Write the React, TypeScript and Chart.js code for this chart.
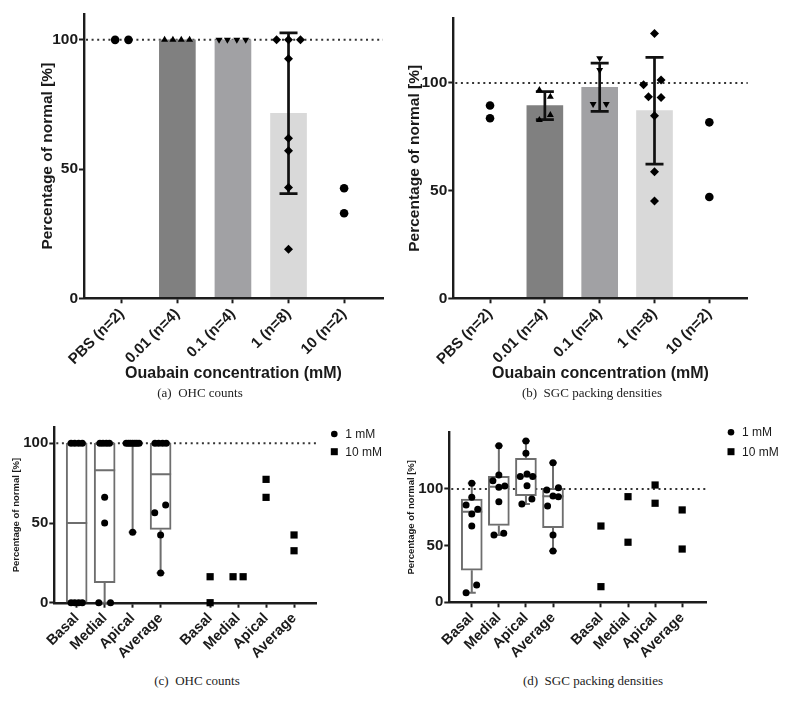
import React, { useEffect, useRef } from 'react';
import { Chart, registerables } from 'chart.js';

Chart.register(...registerables);

const SANS = '"Liberation Sans", Arial, Helvetica, sans-serif';
const SERIF = '"Liberation Serif", "Times New Roman", serif';
const AX = '#1c1c1c';
const TXT = '#1a1a1a';
const BOXC = '#6e6e6e';

// ===================== (a) & (b) : ouabain concentration groups =====================
const concLabels = ['PBS (n=2)', '0.01 (n=4)', '0.1 (n=4)', '1 (n=8)', '10 (n=2)'];
const concPositions = [0, 1, 2, 3, 4];
const yTicksAB = [0, 50, 100];

// (a) OHC counts — bar = mean, error bar = SD
const ohcBarMean = [null, 100, 100, 71.6, null];
const ohcBarSD = [null, 0, 0, 31.1, null];
const ohcPBS = [100, 100];
const ohc0_01 = [100, 100, 100, 100];
const ohc0_1 = [100, 100, 100, 100];
const ohc1 = [100, 100, 100, 92.7, 61.9, 57.1, 42.9, 19];
const ohc10 = [42.6, 32.9];
// horizontal spread of the dots (in category units)
const ohcPBSJit = [-0.12, 0.12];
const ohc0_01Jit = [-0.23, -0.08, 0.07, 0.22];
const ohc0_1Jit = [-0.25, -0.1, 0.07, 0.23];
const ohc1Jit = [-0.215, 0, 0.215, 0, 0, 0, 0, 0];
const ohc10Jit = [0, 0];

// (b) SGC packing densities
const sgcBarMean = [null, 89.5, 98, 87.1, null];
const sgcBarSD = [null, 6.5, 11.2, 24.8, null];
const sgcPBS = [89.5, 83.6];
const sgc0_01 = [96.7, 93.6, 85.1, 82.8];
const sgc0_1 = [111.5, 106, 90.2, 90.2];
const sgc1 = [123, 101.4, 99.1, 93.6, 93.2, 84.7, 58.8, 45.2];
const sgc10 = [81.7, 47];
const sgcPBSJit = [0, 0];
const sgc0_01Jit = [-0.1, 0.1, 0.1, -0.1];
const sgc0_1Jit = [0, 0, -0.12, 0.12];
const sgc1Jit = [0, 0.12, -0.2, -0.11, 0.12, 0, 0, 0];
const sgc10Jit = [0, 0];

const barColors = [null, '#808080', '#a1a1a4', '#d9d9d9', null];

// ===================== (c) & (d) : cochlear regions =====================
const regionLabels = ['Basal', 'Medial', 'Apical', 'Average', 'Basal', 'Medial', 'Apical', 'Average'];
const regionPositions = [0, 1, 2, 3, 4.77, 5.77, 6.77, 7.77];
const yTicksCD = [0, 50, 100];

// (c) OHC counts, 1 mM (box plots) and 10 mM
const ohcBasal1mM = [100, 100, 100, 100, 0, 0, 0, 0];
const ohcMedial1mM = [100, 100, 100, 100, 66.1, 50, 0, 0];
const ohcApical1mM = [100, 100, 100, 100, 100, 100, 100, 44.2];
const ohcAverage1mM = [100, 100, 100, 100, 61.3, 56.5, 42.5, 18.6];
const ohcBasal1mMJit = [-0.2, -0.07, 0.07, 0.2, -0.2, -0.07, 0.07, 0.2];
const ohcMedial1mMJit = [-0.17, -0.06, 0.06, 0.17, 0, 0, -0.21, 0.21];
const ohcApical1mMJit = [-0.23, -0.15, -0.08, 0, 0.08, 0.15, 0.23, 0];
const ohcAverage1mMJit = [-0.2, -0.07, 0.07, 0.2, 0.18, -0.21, 0, 0];
const ohcBasal10mM = [16.3, 0];
const ohcMedial10mM = [16.3, 16.3];
const ohcApical10mM = [77.4, 66.1];
const ohcAverage10mM = [42.5, 32.6];
const ohcBasal10mMJit = [0, 0];
const ohcMedial10mMJit = [-0.18, 0.18];
const ohcApical10mMJit = [0, 0];
const ohcAverage10mMJit = [0, 0];

// (d) SGC packing densities, 1 mM (box plots) and 10 mM
const sgcBasal1mM = [105, 92.7, 85.9, 82, 77.9, 67.3, 15.3, 8.5];
const sgcMedial1mM = [138.2, 112.4, 107.3, 102.6, 101.5, 88.8, 60.9, 59.4];
const sgcApical1mM = [142.4, 131.5, 113.2, 110.9, 110.9, 102.9, 91.2, 86.8];
const sgcAverage1mM = [123.2, 101.1, 99.1, 93.8, 93.2, 85, 59.4, 45.3];
const sgcBasal1mMJit = [0, 0, -0.21, 0.22, 0, 0, 0.18, -0.21];
const sgcMedial1mMJit = [0, 0, -0.22, 0.22, 0, 0, 0.18, -0.18];
const sgcApical1mMJit = [0, 0, 0.04, -0.21, 0.25, 0.04, 0.22, -0.15];
const sgcAverage1mMJit = [0, 0.2, -0.23, 0, 0.2, -0.2, 0, 0];
const sgcBasal10mM = [67.3, 13.8];
const sgcMedial10mM = [93.2, 53];
const sgcApical10mM = [103.5, 87.4];
const sgcAverage10mM = [81.5, 47];
const zeroJit2 = [0, 0];

// ===================== helpers =====================
function pts(pos: number, values: number[], jitter: number[]) {
  return values.map((v, i) => ({ x: pos + (jitter[i] || 0), y: v }));
}

function quantile(values: number[], p: number) {
  const s = [...values].sort((a, b) => a - b);
  const n = s.length;
  const pos = (n + 1) * p;
  const lo = Math.floor(pos);
  if (lo < 1) return s[0];
  if (lo >= n) return s[n - 1];
  return s[lo - 1] + (pos - lo) * (s[lo] - s[lo - 1]);
}

// ===================== plugins =====================
const refLinePlugin = {
  id: 'refLine',
  beforeDatasetsDraw(chart: any, _a: any, opts: any) {
    if (!opts || opts.value == null) return;
    const { ctx, chartArea, scales } = chart;
    const y = scales.y.getPixelForValue(opts.value);
    ctx.save();
    ctx.strokeStyle = '#333';
    ctx.lineWidth = 2;
    ctx.setLineDash([2, 3.6]);
    ctx.beginPath();
    ctx.moveTo(chartArea.left + 2, y);
    ctx.lineTo(chartArea.right, y);
    ctx.stroke();
    ctx.restore();
  },
};

const errorBarPlugin = {
  id: 'errorBars',
  afterDatasetDraw(chart: any, args: any) {
    const ds = chart.data.datasets[args.index];
    if (!ds.errorBars) return;
    const { ctx } = chart;
    const y = chart.scales.y;
    const cap = 18;
    ctx.save();
    ctx.strokeStyle = '#111';
    ctx.lineWidth = 2.7;
    args.meta.data.forEach((el: any, i: number) => {
      const e = ds.errorBars[i];
      if (!e) return;
      const m = ds.data[i].y;
      const pTop = y.getPixelForValue(m + e);
      const pBot = y.getPixelForValue(m - e);
      ctx.beginPath();
      ctx.moveTo(el.x, pTop);
      ctx.lineTo(el.x, pBot);
      ctx.moveTo(el.x - cap / 2, pTop);
      ctx.lineTo(el.x + cap / 2, pTop);
      ctx.moveTo(el.x - cap / 2, pBot);
      ctx.lineTo(el.x + cap / 2, pBot);
      ctx.stroke();
    });
    ctx.restore();
  },
};

const boxWhiskerPlugin = {
  id: 'boxWhiskers',
  afterDatasetDraw(chart: any, args: any) {
    const ds = chart.data.datasets[args.index];
    if (!ds.boxStats) return;
    const { ctx } = chart;
    const y = chart.scales.y;
    const cap = 8;
    ctx.save();
    ctx.strokeStyle = ds.borderColor;
    ctx.lineWidth = ds.borderWidth;
    args.meta.data.forEach((el: any, i: number) => {
      const s = ds.boxStats[i];
      const half = el.width / 2;
      const q1 = ds.data[i].y[0];
      const q3 = ds.data[i].y[1];
      ctx.beginPath();
      const pm = y.getPixelForValue(s.median);
      ctx.moveTo(el.x - half, pm);
      ctx.lineTo(el.x + half, pm);
      if (s.min < q1) {
        const a = y.getPixelForValue(q1), b = y.getPixelForValue(s.min);
        ctx.moveTo(el.x, a);
        ctx.lineTo(el.x, b);
        ctx.moveTo(el.x - cap / 2, b);
        ctx.lineTo(el.x + cap / 2, b);
      }
      if (s.max > q3) {
        const a = y.getPixelForValue(q3), b = y.getPixelForValue(s.max);
        ctx.moveTo(el.x, a);
        ctx.lineTo(el.x, b);
        ctx.moveTo(el.x - cap / 2, b);
        ctx.lineTo(el.x + cap / 2, b);
      }
      ctx.stroke();
    });
    ctx.restore();
  },
};

const sideLegendPlugin = {
  id: 'sideLegend',
  afterDraw(chart: any, _a: any, opts: any) {
    if (!opts || !opts.show) return;
    const { ctx, chartArea } = chart;
    ctx.save();
    ctx.font = `${opts.fontSize}px ${SANS}`;
    ctx.textBaseline = 'middle';
    ctx.textAlign = 'left';
    let row = 0;
    chart.data.datasets.forEach((ds: any) => {
      if (!ds.inLegend) return;
      const cx = chartArea.right + opts.dx;
      const cy = chartArea.top + opts.dy + row * opts.rowGap;
      ctx.fillStyle = '#000';
      if (ds.pointStyle === 'rect') {
        ctx.fillRect(cx - 3.5, cy - 3.5, 7, 7);
      } else {
        ctx.beginPath();
        ctx.arc(cx, cy, 3.3, 0, Math.PI * 2);
        ctx.fill();
      }
      ctx.fillStyle = TXT;
      ctx.fillText(ds.label, cx + opts.textGap, cy + 0.5);
      row++;
    });
    ctx.restore();
  },
};

// ===================== axis builders =====================
function xAxis(o: any) {
  return {
    type: 'linear',
    min: o.min,
    max: o.max,
    offset: false,
    afterBuildTicks: (ax: any) => {
      ax.ticks = o.positions.map((v: number) => ({ value: v }));
    },
    afterFit: (ax: any) => {
      ax.height = o.H - o.area.bottom;
    },
    ticks: {
      autoSkip: false,
      minRotation: 45,
      maxRotation: 45,
      padding: 2,
      color: TXT,
      font: { family: SANS, size: o.tickSize, weight: 'bold' },
      callback: (_v: any, i: number) => o.labels[i],
    },
    grid: {
      display: true, offset: false, drawOnChartArea: false, drawTicks: true,
      tickLength: 5, tickWidth: 2, tickColor: AX,
    },
    border: { display: true, color: AX, width: 2.4, z: o.borderZ || 0 },
    title: o.title
      ? {
          display: true,
          text: o.title,
          color: TXT,
          font: { family: SANS, size: o.titleSize, weight: 'bold' },
          padding: { top: 0, bottom: o.titlePadBottom },
        }
      : { display: false },
  };
}

function yAxis(o: any) {
  return {
    type: 'linear',
    min: 0,
    max: o.max,
    afterBuildTicks: (ax: any) => {
      ax.ticks = o.ticks.map((v: number) => ({ value: v }));
    },
    afterFit: (ax: any) => {
      ax.width = o.area.left;
    },
    ticks: { padding: 1, color: TXT, font: { family: SANS, size: o.tickSize, weight: 'bold' } },
    grid: { display: true, drawOnChartArea: false, drawTicks: true, tickLength: 5, tickWidth: 2, tickColor: AX },
    border: { display: true, color: AX, width: 2.4, z: o.borderZ || 0 },
    title: {
      display: true,
      text: 'Percentage of normal [%]',
      color: TXT,
      font: { family: SANS, size: o.titleSize, weight: 'bold' },
      padding: { top: o.titlePad, bottom: 0 },
    },
  };
}

// ===================== panel builders =====================
function barPanel(p: any) {
  const idx = p.means.map((m: any, i: number) => (m == null ? -1 : i)).filter((i: number) => i >= 0);
  const scatter = p.groups.map((g: any, i: number) => ({
    type: 'scatter',
    label: concLabels[i],
    data: pts(concPositions[i], g.values, g.jitter),
    pointStyle: g.style,
    pointRotation: g.rotation || 0,
    pointRadius: g.radius,
    pointHoverRadius: g.radius,
    pointBackgroundColor: '#000',
    pointBorderWidth: 0,
    clip: false,
    order: 0,
  }));
  return {
    type: 'bar',
    data: {
      datasets: [
        ...scatter,
        {
          type: 'bar',
          label: 'mean',
          data: idx.map((i: number) => ({ x: concPositions[i], y: p.means[i] })),
          backgroundColor: idx.map((i: number) => barColors[i]),
          errorBars: idx.map((i: number) => p.sds[i]),
          barThickness: 36,
          borderWidth: 0,
          order: 1,
        },
      ],
    },
    options: {
      responsive: false,
      animation: false,
      events: [],
      layout: { padding: { left: 0, top: p.area.top, right: p.W - p.area.right, bottom: 0 } },
      plugins: { legend: { display: false }, tooltip: { enabled: false }, refLine: { value: 100 } },
      scales: {
        x: xAxis({
          min: p.xMin, max: p.xMax, positions: concPositions, labels: concLabels, H: p.H, area: p.area,
          tickSize: 15, title: 'Ouabain concentration (mM)', titleSize: 16, titlePadBottom: 1.5, borderZ: 1,
        }),
        y: yAxis({ max: p.yMax, ticks: yTicksAB, area: p.area, tickSize: 15.5, titleSize: 15.5, titlePad: p.yTitlePad, borderZ: 1 }),
      },
    },
    plugins: [refLinePlugin, errorBarPlugin],
  };
}

function boxPanel(p: any) {
  const stats = p.groups1.map((g: number[]) => ({
    q1: quantile(g, 0.25),
    median: quantile(g, 0.5),
    q3: quantile(g, 0.75),
    min: Math.min(...g),
    max: Math.max(...g),
  }));
  const ones = p.groups1.flatMap((g: number[], i: number) => pts(regionPositions[i], g, p.jit1[i]));
  const tens = p.groups10.flatMap((g: number[], i: number) => pts(regionPositions[4 + i], g, p.jit10[i]));
  return {
    type: 'bar',
    data: {
      datasets: [
        {
          type: 'scatter', label: '1 mM', data: ones, inLegend: true,
          pointStyle: 'circle', pointRadius: 3.5, pointHoverRadius: 3.5,
          pointBackgroundColor: '#000', pointBorderWidth: 0, clip: false, order: 0,
        },
        {
          type: 'scatter', label: '10 mM', data: tens, inLegend: true,
          pointStyle: 'rect', pointRadius: 5.1, pointHoverRadius: 5.1,
          pointBackgroundColor: '#000', pointBorderWidth: 0, clip: false, order: 0,
        },
        {
          type: 'bar', label: 'box',
          data: stats.map((s: any, i: number) => ({ x: regionPositions[i], y: [s.q1, s.q3] })),
          boxStats: stats,
          backgroundColor: '#ffffff',
          borderColor: BOXC,
          borderWidth: 2,
          borderSkipped: false,
          barThickness: 21,
          order: 1,
        },
      ],
    },
    options: {
      responsive: false,
      animation: false,
      events: [],
      layout: { padding: { left: 0, top: p.area.top, right: p.W - p.area.right, bottom: 0 } },
      plugins: {
        legend: { display: false },
        tooltip: { enabled: false },
        refLine: { value: 100 },
        sideLegend: { show: true, fontSize: 12, dx: p.legend.dx, dy: p.legend.dy, rowGap: p.legend.rowGap, textGap: 11 },
      },
      scales: {
        x: xAxis({ min: p.xMin, max: p.xMax, positions: regionPositions, labels: regionLabels, H: p.H, area: p.area, tickSize: 14.5 }),
        y: yAxis({ max: p.yMax, ticks: yTicksCD, area: p.area, tickSize: 15, titleSize: 9.5, titlePad: p.yTitlePad }),
      },
    },
    plugins: [refLinePlugin, boxWhiskerPlugin, sideLegendPlugin],
  };
}

// ===================== panel configs =====================
const configA = () =>
  barPanel({
    means: ohcBarMean, sds: ohcBarSD,
    groups: [
      { values: ohcPBS, jitter: ohcPBSJit, style: 'circle', radius: 4.3 },
      { values: ohc0_01, jitter: ohc0_01Jit, style: 'triangle', radius: 4 },
      { values: ohc0_1, jitter: ohc0_1Jit, style: 'triangle', rotation: 180, radius: 4 },
      { values: ohc1, jitter: ohc1Jit, style: 'rectRot', radius: 4.5 },
      { values: ohc10, jitter: ohc10Jit, style: 'circle', radius: 4.3 },
    ],
    yMax: 110, xMin: -0.68, xMax: 4.7, W: 396, H: 385,
    area: { left: 84, top: 14, right: 383, bottom: 298.3 }, yTitlePad: 38.7,
  });

const configB = () =>
  barPanel({
    means: sgcBarMean, sds: sgcBarSD,
    groups: [
      { values: sgcPBS, jitter: sgcPBSJit, style: 'circle', radius: 4.3 },
      { values: sgc0_01, jitter: sgc0_01Jit, style: 'triangle', radius: 4 },
      { values: sgc0_1, jitter: sgc0_1Jit, style: 'triangle', rotation: 180, radius: 4 },
      { values: sgc1, jitter: sgc1Jit, style: 'rectRot', radius: 4.5 },
      { values: sgc10, jitter: sgc10Jit, style: 'circle', radius: 4.3 },
    ],
    yMax: 130, xMin: -0.67, xMax: 4.7, W: 396, H: 385,
    area: { left: 57.3, top: 18.3, right: 351.7, bottom: 298.3 }, yTitlePad: 9.8,
  });

const configC = () =>
  boxPanel({
    groups1: [ohcBasal1mM, ohcMedial1mM, ohcApical1mM, ohcAverage1mM],
    jit1: [ohcBasal1mMJit, ohcMedial1mMJit, ohcApical1mMJit, ohcAverage1mMJit],
    groups10: [ohcBasal10mM, ohcMedial10mM, ohcApical10mM, ohcAverage10mM],
    jit10: [ohcBasal10mMJit, ohcMedial10mMJit, ohcApical10mMJit, ohcAverage10mMJit],
    yMax: 110, xMin: -0.8, xMax: 8.58, W: 396, H: 270,
    area: { left: 54.3, top: 27.4, right: 316.7, bottom: 202.7 }, yTitlePad: 10.3,
    legend: { dx: 17.6, dy: 6.6, rowGap: 17.7 },
  });

const configD = () =>
  boxPanel({
    groups1: [sgcBasal1mM, sgcMedial1mM, sgcApical1mM, sgcAverage1mM],
    jit1: [sgcBasal1mMJit, sgcMedial1mMJit, sgcApical1mMJit, sgcAverage1mMJit],
    groups10: [sgcBasal10mM, sgcMedial10mM, sgcApical10mM, sgcAverage10mM],
    jit10: [zeroJit2, zeroJit2, zeroJit2, zeroJit2],
    yMax: 150, xMin: -0.83, xMax: 8.65, W: 396, H: 270,
    area: { left: 53.3, top: 32.3, right: 310, bottom: 202.3 }, yTitlePad: 10.1,
    legend: { dx: 25, dy: 0, rowGap: 19.4 },
  });

// ===================== components =====================
function ChartCanvas({ build, left, top, width, height }: any) {
  const ref = useRef<HTMLCanvasElement>(null);
  useEffect(() => {
    const chart = new Chart(ref.current as HTMLCanvasElement, build() as any);
    return () => chart.destroy();
  }, [build]);
  return (
    <canvas
      ref={ref}
      width={width}
      height={height}
      style={{ position: 'absolute', left, top, width, height, display: 'block' }}
    />
  );
}

function Caption({ text, cx, cy }: any) {
  return (
    <div
      style={{
        position: 'absolute',
        left: cx,
        top: cy,
        transform: 'translate(-50%, -50%)',
        fontFamily: SERIF,
        fontSize: 13,
        lineHeight: '16px',
        whiteSpace: 'pre',
        color: '#222',
      }}
    >
      {text}
    </div>
  );
}

export default function App() {
  return (
    <div
      style={{
        position: 'absolute',
        left: 0,
        top: 0,
        width: 792,
        height: 707,
        background: '#ffffff',
        overflow: 'hidden',
      }}
    >
      <ChartCanvas build={configA} left={0} top={0} width={396} height={385} />
      <ChartCanvas build={configB} left={396} top={0} width={396} height={385} />
      <ChartCanvas build={configC} left={0} top={400} width={396} height={270} />
      <ChartCanvas build={configD} left={396} top={400} width={396} height={270} />
      <Caption text="(a)  OHC counts" cx={200} cy={393} />
      <Caption text="(b)  SGC packing densities" cx={592} cy={393} />
      <Caption text="(c)  OHC counts" cx={197} cy={681} />
      <Caption text="(d)  SGC packing densities" cx={593} cy={681} />
    </div>
  );
}
